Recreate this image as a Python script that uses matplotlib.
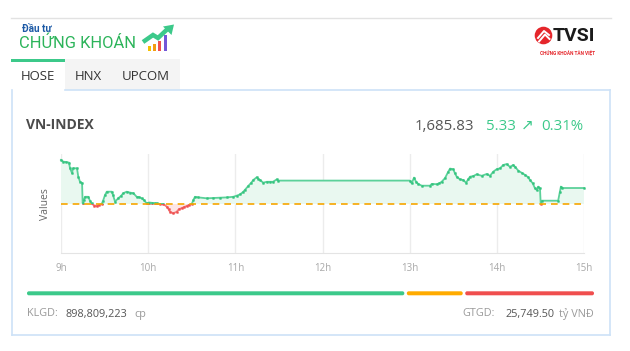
import matplotlib
matplotlib.use("Agg")
import matplotlib.pyplot as plt
from matplotlib.patches import Rectangle, Circle, Polygon, FancyBboxPatch
import numpy as np

plt.rcParams['font.family'] = ['Open Sans', 'DejaVu Sans']

# ---------------- data ----------------
index_name = "VN-INDEX"
ref_value = 1680.50
last_value = 1685.83
change = 5.33
change_pct = 0.31
volume = "898,809,223"
turnover = "25,749.50"
tabs = ["HOSE", "HNX", "UPCOM"]
hour_labels = ["9h", "10h", "11h", "12h", "13h", "14h", "15h"]
hour_ticks = [0, 60, 120, 180, 240, 300, 360]   # minutes after 9:00

# minutes after 9:00
minutes = [0, 1.6, 3.4, 5.5, 6.2, 7.6, 8.3, 11, 11.9, 13.1, 14.5, 14.9, 15.8, 16.5, 18.8,
           20, 21.1, 22.7, 24.8, 26.2, 28, 28.9, 30.3, 31.5, 34.9, 35.8, 37.2, 39.4, 41.3,
           42.9, 45.2, 47.5, 49.8, 52.1, 53.7, 55.5, 57.1, 59, 60.6, 62.4, 64.7, 65.9, 68.1,
           70.4, 72.8, 74, 75, 77.3, 79.6, 81.2, 83.1, 84.7, 86.5, 88.1, 90, 91.1, 92.2,
           94.5, 100.3, 104.6, 109.4, 114.1, 118.6, 121.1, 123.2, 125.3, 126.6, 128.9,
           130.8, 132.4, 134.7, 135.9, 137, 139.2, 141.6, 143.9, 145.9, 148.5, 149.4,
           240, 241.4, 243, 244.4, 245.9, 248.3, 254, 255.2, 258.6, 260.4, 262, 264.3,
           266.6, 267.8, 270, 271.2, 272.4, 274.6, 276.9, 278.8, 280.3, 281.5, 283.8,
           286.1, 289.6, 293, 295.3, 297.6, 299.9, 302.2, 304.4, 306.7, 309, 311.3, 312.5,
           314.8, 317.1, 319.4, 321.6, 322.8, 324.7, 326.3, 327.4, 328.5, 329.7, 330.2,
           330.9, 342.2, 343.4, 344.1, 344.6, 360]
values = [1695.2, 1694.6, 1694.5, 1694.3, 1692.4, 1690.8, 1692.4, 1692.4, 1689.6, 1687.9,
          1687.5, 1680.8, 1681.8, 1682.9, 1682.9, 1681.5, 1680.7, 1680.0, 1679.8, 1680.2,
          1680.5, 1681.5, 1683.5, 1684.6, 1684.6, 1683.5, 1681.3, 1682.4, 1683.2, 1684.1,
          1684.6, 1684.3, 1684.1, 1682.9, 1682.8, 1682.4, 1681.8, 1680.7, 1681.0, 1680.9,
          1680.8, 1680.7, 1680.5, 1680.5, 1679.6, 1678.8, 1677.9, 1677.4, 1677.9, 1678.8,
          1679.1, 1679.5, 1679.8, 1680.2, 1680.5, 1681.8, 1682.9, 1682.7, 1682.4, 1682.5,
          1682.6, 1682.7, 1682.9, 1683.3, 1683.7, 1684.5, 1685.2, 1686.5, 1687.5, 1688.5,
          1689.4, 1688.8, 1688.5, 1687.6, 1687.9, 1687.9, 1687.9, 1688.7, 1688.3,
          1688.3, 1687.4, 1689.3, 1687.9, 1687.2, 1686.6, 1686.6, 1687.2, 1687.1, 1687.4,
          1687.9, 1689.1, 1691.3, 1692.3, 1692.1, 1690.7, 1689.6, 1688.7, 1688.5, 1687.6,
          1688.7, 1689.6, 1689.8, 1690.4, 1689.9, 1690.5, 1689.9, 1691.3, 1692.1, 1692.4,
          1693.5, 1693.8, 1692.9, 1693.5, 1692.9, 1691.6, 1690.9, 1690.2, 1689.4, 1688.5,
          1687.4, 1685.7, 1685.2, 1686.3, 1685.7, 1680.5, 1681.6, 1681.6, 1684.6, 1686.3,
          1685.83, 1685.83]

# market breadth bar (advancers / unchanged / decliners) shares
breadth = [378, 56, 129]
breadth_colors = ["#3cc98a", "#ffab00", "#f04e4e"]

W, H = 630, 351
fig = plt.figure(figsize=(W / 100, H / 100), dpi=100)
fig.patch.set_facecolor("white")

# background layer in pixel coordinates
bg = fig.add_axes([0, 0, 1, 1])
bg.set_xlim(0, W)
bg.set_ylim(H, 0)
bg.axis("off")

# top separator
bg.plot([11, 611], [18, 18], color="#e2e2e2", lw=1)

# logo "Đầu tư CHỨNG KHOÁN"
bg.text(21.5, 29.5, "Đầu tư", fontsize=7.2, fontweight="bold", color="#1d5aa6",
        ha="left", va="center", family=["Roboto", "DejaVu Sans"])
bg.text(19, 43.5, "CHỨNG KHOÁN", fontsize=11.9, color="#2cb45a",
        ha="left", va="center", family=["Roboto", "DejaVu Sans"])
for bx, top, c in [(148, 46, "#f5c000"), (153, 44, "#f39c12"), (158, 41, "#ef4f4f"), (163.5, 35, "#7357d8")]:
    bg.add_patch(Rectangle((bx, top), 3, 51 - top, color=c, lw=0))
bg.plot([143, 153, 158, 167], [42, 35, 38, 29.5], color="#3cc98a", lw=3.2,
        solid_capstyle="butt", solid_joinstyle="miter")
bg.add_patch(Polygon([[163, 26.5], [174, 24.5], [171.5, 35]], closed=True, color="#3cc98a", lw=0))

# TVSI logo
bg.add_patch(Circle((543.5, 35.5), 8.8, color="#e5262b", lw=0))
bg.plot([538, 544, 549], [38, 31, 35], color="white", lw=1.4)
bg.plot([539, 545, 549.5], [41.5, 34.5, 39], color="white", lw=1.4)
bg.text(552.5, 36, "TVSI", fontsize=14, fontweight="bold", color="#1b1b1b",
        ha="left", va="center", family=["Roboto", "DejaVu Sans"])
bg.text(568, 52, "CHỨNG KHOÁN TÂN VIỆT", fontsize=3.4, color="#e5262b",
        ha="center", va="center", fontweight="bold", family=["Roboto", "DejaVu Sans"])

# tabs
bg.add_patch(Rectangle((65, 59), 115, 31, color="#f4f4f4", lw=0))
bg.add_patch(Rectangle((11, 59), 54, 2.5, color="#3cc98a", lw=0))
# panel border
border_c = "#cde2f7"
bg.plot([65, 610], [90, 90], color=border_c, lw=1.2)
bg.plot([11.5, 11.5], [90, 335], color=border_c, lw=1.2)
bg.plot([610, 610], [90, 335], color=border_c, lw=1.2)
bg.plot([11.5, 610], [335, 335], color=border_c, lw=1.2)
for (tx, label) in zip([21, 75, 122], tabs):
    bg.text(tx, 76, label, fontsize=9.5, color="#333333", ha="left", va="center")

# header of chart
bg.text(26.5, 125, index_name, fontsize=10, fontweight="bold", color="#4b4b4b",
        ha="left", va="center")
bg.text(474, 126, f"{last_value:,.2f}", fontsize=10.8, color="#555555", ha="right", va="center")
bg.text(486, 126, f"{change:.2f}", fontsize=10.8, color="#3cc98a", ha="left", va="center")
bg.text(527, 125.5, "↗", fontsize=11, color="#3cc98a", ha="center", va="center",
        family=["DejaVu Sans"])
bg.text(583.5, 126, f"{change_pct:.2f}%", fontsize=10.8, color="#3cc98a", ha="right", va="center")

bg.text(46, 204, "Values", fontsize=7.5, color="#666666", rotation=90, ha="center", va="center")

# breadth bar
x0, x1 = 27, 594
gap = 2.5
total = sum(breadth)
span = (x1 - x0) - gap * (len(breadth) - 1)
cur = x0
for n, c in zip(breadth, breadth_colors):
    w = span * n / total
    bg.add_patch(FancyBboxPatch((cur, 291.3), w, 4, boxstyle="round,pad=0,rounding_size=1.9",
                                color=c, lw=0))
    cur += w + gap

# footer
fy = 314
bg.text(27, fy, "KLGD:", fontsize=7.8, color="#9a9a9a", ha="left", va="center")
bg.text(66, fy, volume, fontsize=7.8, color="#555555", ha="left", va="center")
bg.text(134, fy, "cp", fontsize=7.8, color="#9a9a9a", ha="left", va="center")
bg.text(594, fy, "tỷ VNĐ", fontsize=7.8, color="#9a9a9a", ha="right", va="center")
bg.text(554.5, fy, turnover, fontsize=7.8, color="#555555", ha="right", va="center")
bg.text(494.5, fy, "GTGD:", fontsize=7.8, color="#9a9a9a", ha="right", va="center")

# ---------------- chart ----------------
L, R, T, B = 61, 584, 154, 253
ax = fig.add_axes([L / W, 1 - B / H, (R - L) / W, (B - T) / H])
ax.set_facecolor("none")
t = np.array(minutes, dtype=float)
v = np.array(values, dtype=float)
ylo = ref_value - 49 / 3.0
yhi = ref_value + 50 / 3.0
ax.set_xlim(0, 360)
ax.set_ylim(ylo, yhi)

for h in hour_ticks:
    ax.axvline(h, color="#ececec", lw=1, zorder=0)

ax.fill_between(t, v, ref_value, where=v >= ref_value, interpolate=True,
                color="#e9f8f0", lw=0, zorder=1)
ax.fill_between(t, v, ref_value, where=v < ref_value, interpolate=True,
                color="#fde6e6", lw=0, zorder=1)

up_line, = ax.plot(t, v, color="#5cd19a", lw=1.3, zorder=3,
                   marker="s", ms=1.2, mfc="#33c47e", mec="#33c47e", mew=0.4)
dn_line, = ax.plot(t, v, color="#f27a7a", lw=1.3, zorder=3,
                   marker="s", ms=1.2, mfc="#ef4f4f", mec="#ef4f4f", mew=0.4)
clip_up = Rectangle((-10, ref_value), 380, yhi - ref_value + 5, transform=ax.transData)
clip_dn = Rectangle((-10, ylo - 5), 380, ref_value - ylo + 5, transform=ax.transData)
up_line.set_clip_path(clip_up)
dn_line.set_clip_path(clip_dn)

ax.axhline(ref_value, color="#f7a600", lw=1.2, ls=(0, (4, 3)), zorder=4)

for s in ["top", "left", "right"]:
    ax.spines[s].set_visible(False)
ax.spines["bottom"].set_color("#e4e4e4")
ax.set_yticks([])
ax.set_xticks(hour_ticks)
ax.set_xticklabels(hour_labels)
ax.tick_params(axis="x", length=0, pad=7, labelsize=7, labelcolor="#a8a8a8")

fig.savefig("out.png", dpi=100, facecolor="white")
